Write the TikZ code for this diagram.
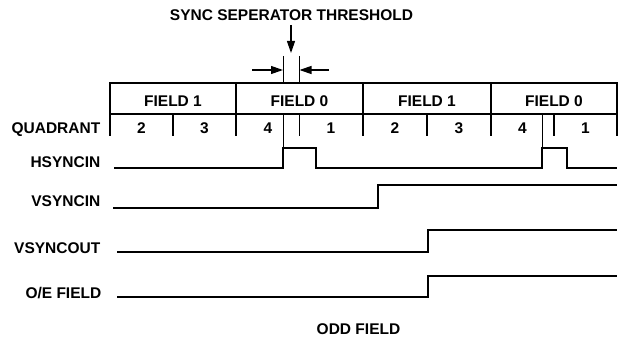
\documentclass[tikz,border=0pt]{standalone}
\usepackage{fontspec}
\setmainfont{Liberation Sans}
\usetikzlibrary{arrows.meta}
\begin{document}
\begin{tikzpicture}[x=1pt,y=-1pt,
  lbl/.style={font=\fontsize{15.5}{18}\selectfont\bfseries, inner sep=0pt, text height=11.1pt, text depth=0pt},
  tbl/.style={line width=1.5pt, line cap=rect},
  wave/.style={line width=1.7pt, line join=miter},
  thinline/.style={line width=0.7pt},
  arr/.style={line width=1.2pt, -{Triangle[length=12pt,width=8pt]}}]
\useasboundingbox (0,0) rectangle (633,337);

% title and threshold arrows
\node[lbl] (title) at (291.5,15.3) {SYNC SEPERATOR THRESHOLD};
\coordinate (dtop) at (291,25);
\coordinate (dtip) at (291,53);
\draw[arr] (dtop) -- (dtip);
\coordinate (la) at (252,70);
\coordinate (lt) at (283,70);
\coordinate (ra) at (329,70);
\coordinate (rt) at (299.5,70);
\draw[arr] (la) -- (lt);
\draw[arr] (ra) -- (rt);
\draw[thinline] (283,56) -- (283,83);
\draw[thinline] (299.5,56) -- (299.5,83);

% table
\draw[tbl] (110,135) -- (110,83) -- (617,83) -- (617,135);
\draw[tbl] (110,114) -- (617,114);
\foreach \x in {236,363,491} \draw[tbl] (\x,83) -- (\x,135);
\foreach \x in {173,299.5,427,554} \draw[tbl] (\x,114) -- (\x,135);
\draw[thinline] (283,114) -- (283,148);
\draw[thinline] (542,114) -- (542,148);

\node[lbl] (f1a) at (173,100.5) {FIELD 1};
\node[lbl] (f0a) at (299.5,100.5) {FIELD 0};
\node[lbl] (f1b) at (427,100.5) {FIELD 1};
\node[lbl] (f0b) at (554,100.5) {FIELD 0};

\node[lbl] (q1) at (141.5,128) {2};
\node[lbl] (q2) at (204.5,128) {3};
\node[lbl] (q3) at (268,128) {4};
\node[lbl] (q4) at (331,128) {1};
\node[lbl] (q5) at (395,128) {2};
\node[lbl] (q6) at (459,128) {3};
\node[lbl] (q7) at (522.5,128) {4};
\node[lbl] (q8) at (585.5,128) {1};

% labels
\node[lbl, anchor=east] (lq) at (100.5,128) {QUADRANT};
\node[lbl, anchor=east] (lh) at (100.5,161.5) {HSYNCIN};
\node[lbl, anchor=east] (lv) at (100.5,201) {VSYNCIN};
\node[lbl, anchor=east] (lvo) at (100.5,247.5) {VSYNCOUT};
\node[lbl, anchor=east] (loe) at (101.5,293.3) {O/E FIELD};
\node[lbl] (odd) at (358.5,329) {ODD FIELD};

% waveforms
\draw[wave] (114,168) -- (283,168) -- (283,148) -- (316,148) -- (316,168)
  -- (542,168) -- (542,148) -- (567,148) -- (567,168) -- (617,168);
\draw[wave] (113,208) -- (378,208) -- (378,185) -- (617,185);
\draw[wave] (117,252) -- (428,252) -- (428,230) -- (617,230);
\draw[wave] (117,297) -- (428,297) -- (428,276) -- (617,276);
\end{tikzpicture}
\end{document}
